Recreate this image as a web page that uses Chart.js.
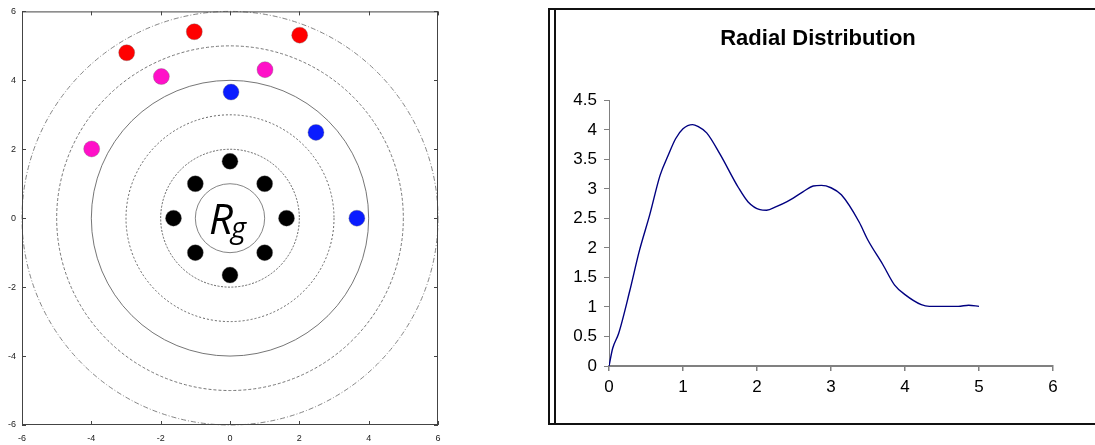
<!DOCTYPE html>
<html>
<head>
<meta charset="utf-8">
<script src="https://cdn.jsdelivr.net/npm/chart.js@4/dist/chart.umd.min.js"></script>
<style>
  body { margin: 0; width: 1095px; height: 445px; overflow: hidden; background: #fff; position: relative; }
  #ringChart { position: absolute; left: 0; top: 0; }
  #frame { position: absolute; left: 548px; top: 8px; width: 600px; height: 413px; border: 2px solid #111; }
  #frame:before { content: ''; position: absolute; left: 4px; top: 0; bottom: 0; width: 1.5px; background: #111; }
  #rdfChart { position: absolute; left: 548px; top: 0; }
</style>
</head>
<body>
<canvas id="ringChart" width="450" height="445"></canvas>
<div id="frame"></div>
<canvas id="rdfChart" width="547" height="445"></canvas>
<script>
// left panel: shells round the centre
const shellTicks = [-6, -4, -2, 0, 2, 4, 6]
const shellRadii = [1, 2, 3, 4, 5, 6]

const innerX = [0, 1, 1.63, 1, 0, -1, -1.63, -1]
const innerY = [1.65, 1, 0, -1, -1.65, -1, 0, 1]
const blueX = [0.03, 2.48, 3.66]
const blueY = [3.66, 2.49, 0]
const pinkX = [-3.99, -1.98, 1.01]
const pinkY = [2.01, 4.11, 4.31]
const redX = [-2.98, -1.03, 2.01]
const redY = [4.80, 5.41, 5.31]

// right panel: radial distribution
const radius = [0, 0.05, 0.13, 0.28, 0.41, 0.55, 0.69, 0.8, 0.9, 1.0, 1.13, 1.2, 1.32, 1.5, 1.75, 1.88, 2.04, 2.13, 2.26, 2.4, 2.62, 2.76, 2.87, 3.0, 3.14, 3.38, 3.5, 3.7, 3.86, 4.0, 4.22, 4.33, 4.72, 4.86, 5.0]
const gValues = [0, 0.30, 0.55, 1.27, 1.95, 2.56, 3.23, 3.57, 3.85, 4.02, 4.09, 4.06, 3.95, 3.59, 3.02, 2.78, 2.65, 2.64, 2.70, 2.78, 2.95, 3.05, 3.06, 3.02, 2.90, 2.44, 2.13, 1.72, 1.37, 1.21, 1.04, 1.01, 1.01, 1.03, 1.01]

const shellDash = [[], [2, 1.5], [2, 2], [], [3, 2], [5, 2, 1, 2]]
const shellColor = ['#777', '#555', '#555', '#666', '#666', '#777']

function pts(xs, ys) {
  return xs.map((v, i) => ({ x: v, y: ys[i] }))
}

function dots(data, color) {
  return {
    data: data,
    backgroundColor: color,
    borderColor: 'rgba(110,110,110,0.35)',
    borderWidth: 1,
    pointRadius: 8,
    pointHoverRadius: 8
  }
}

// shells, box, inward ticks and the R_g label
const gnuBox = {
  id: 'gnuBox',
  beforeDatasetsDraw(chart) {
    const { ctx, scales: { x, y } } = chart
    const cx = x.getPixelForValue(0)
    const cy = y.getPixelForValue(0)
    ctx.save()
    ctx.lineWidth = 0.9
    shellRadii.forEach((r, i) => {
      ctx.beginPath()
      ctx.setLineDash(shellDash[i])
      ctx.strokeStyle = shellColor[i]
      ctx.ellipse(cx, cy, x.getPixelForValue(r) - cx, cy - y.getPixelForValue(r), 0, 0, Math.PI * 2)
      ctx.stroke()
    })
    ctx.setLineDash([])
    ctx.fillStyle = '#000'
    ctx.textBaseline = 'alphabetic'
    ctx.textAlign = 'right'
    ctx.font = "italic 42px 'Open Sans', 'DejaVu Sans', sans-serif"
    ctx.fillText('R', cx + 3, cy + 16)
    ctx.textAlign = 'left'
    ctx.font = "italic 29px 'Open Sans', 'DejaVu Sans', sans-serif"
    ctx.fillText('g', cx + 1, cy + 20)
    ctx.restore()
  },
  afterDraw(chart) {
    const { ctx, chartArea: a, scales: { x, y } } = chart
    ctx.save()
    ctx.strokeStyle = '#444'
    ctx.lineWidth = 1
    ctx.strokeRect(a.left + 0.5, a.top + 0.5, a.right - a.left - 1, a.bottom - a.top - 1)
    ctx.beginPath()
    x.ticks.forEach(t => {
      const px = Math.round(x.getPixelForValue(t.value)) + 0.5
      ctx.moveTo(px, a.bottom); ctx.lineTo(px, a.bottom - 4)
      ctx.moveTo(px, a.top); ctx.lineTo(px, a.top + 4)
    })
    y.ticks.forEach(t => {
      const py = Math.round(y.getPixelForValue(t.value)) + 0.5
      ctx.moveTo(a.left, py); ctx.lineTo(a.left + 4, py)
      ctx.moveTo(a.right, py); ctx.lineTo(a.right - 4, py)
    })
    ctx.stroke()
    ctx.restore()
  }
}

const smallTicks = { size: 9, family: "'Liberation Sans', Arial, sans-serif" }

new Chart(document.querySelector('#ringChart'), {
  type: 'scatter',
  data: {
    datasets: [
      dots(pts(innerX, innerY), '#000'),
      dots(pts(blueX, blueY), '#0a1cff'),
      dots(pts(pinkX, pinkY), '#ff10c8'),
      dots(pts(redX, redY), '#ff0000')
    ]
  },
  options: {
    responsive: false,
    animation: false,
    layout: { padding: { top: 7, right: 12, left: 0, bottom: 0 } },
    plugins: { legend: { display: false }, tooltip: { enabled: false } },
    scales: {
      x: {
        type: 'linear', min: -6, max: 6,
        afterBuildTicks: s => { s.ticks = shellTicks.map(v => ({ value: v })) },
        ticks: { font: smallTicks, color: '#222', padding: 8 },
        grid: { drawOnChartArea: false, drawTicks: false },
        border: { display: false },
        afterFit: s => { s.height = 20 }
      },
      y: {
        type: 'linear', min: -6, max: 6,
        afterBuildTicks: s => { s.ticks = shellTicks.map(v => ({ value: v })) },
        ticks: { font: smallTicks, color: '#222', padding: 6 },
        grid: { drawOnChartArea: false, drawTicks: false },
        border: { display: false },
        afterFit: s => { s.width = 22 }
      }
    }
  },
  plugins: [gnuBox]
})

const excelFont = { size: 17, family: "'Liberation Sans', Arial, sans-serif" }

new Chart(document.querySelector('#rdfChart'), {
  type: 'line',
  data: {
    datasets: [{
      data: pts(radius, gValues),
      borderColor: '#000080',
      borderWidth: 1.4,
      pointRadius: 0,
      cubicInterpolationMode: 'monotone',
      fill: false
    }]
  },
  options: {
    responsive: false,
    animation: false,
    layout: { padding: { top: 0, right: 7, left: 0, bottom: 0 } },
    plugins: {
      legend: { display: false },
      tooltip: { enabled: false },
      title: {
        display: true,
        text: 'Radial Distribution',
        color: '#000',
        font: { size: 22, weight: 'bold', family: "'Liberation Sans', Arial, sans-serif" },
        padding: { top: 26, bottom: 48 }
      }
    },
    scales: {
      x: {
        type: 'linear', min: 0, max: 6,
        ticks: { stepSize: 1, font: excelFont, color: '#000', padding: 6, callback: v => String(v) },
        grid: { drawOnChartArea: false, tickLength: 5, color: '#808080', lineWidth: 1.5 },
        border: { color: '#808080', width: 2 },
        afterFit: s => { s.height = 79 }
      },
      y: {
        type: 'linear', min: 0, max: 4.5,
        ticks: { stepSize: 0.5, font: excelFont, color: '#000', padding: 7, callback: v => String(v) },
        grid: { drawOnChartArea: false, tickLength: 5, color: '#808080' },
        border: { color: '#808080', width: 1 },
        afterFit: s => { s.width = 61 }
      },
      spare: {
        position: 'right',
        display: true,
        ticks: { display: false },
        grid: { display: false },
        border: { display: false },
        afterFit: s => { s.width = 35 }
      }
    }
  }
})
</script>
</body>
</html>
